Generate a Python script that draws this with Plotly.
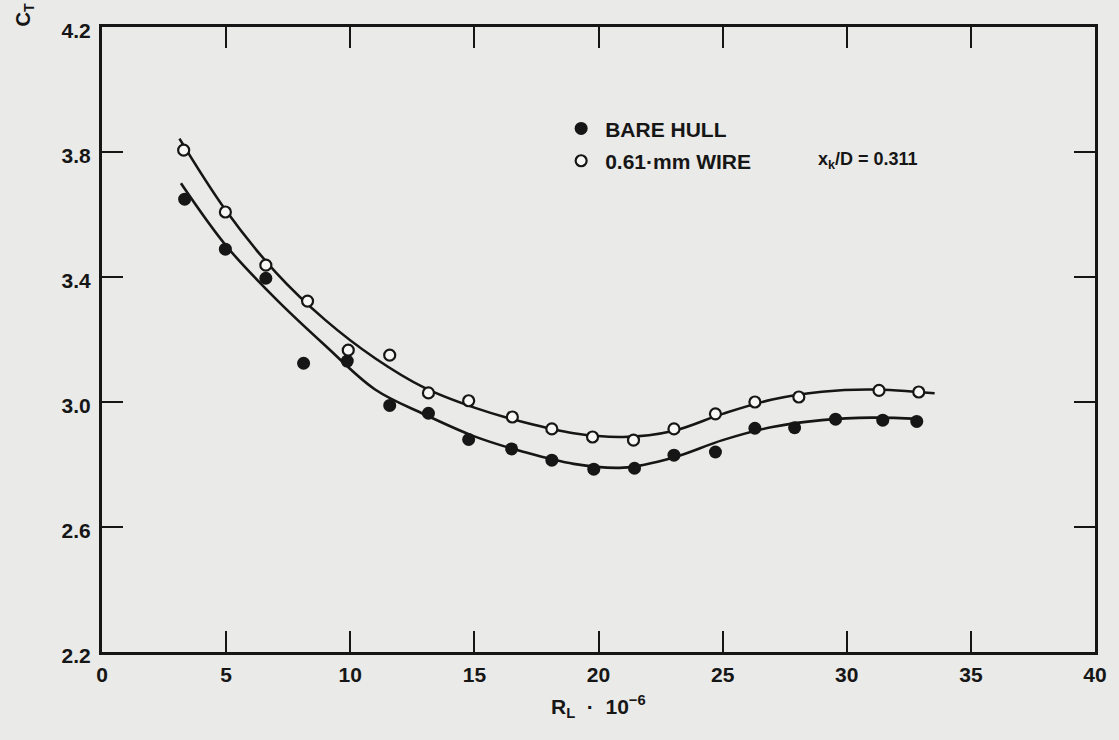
import plotly.graph_objects as go

# ---- measured points (R_L * 1e-6, C_T * 1e3) ----
re_bare = [3.33, 4.97, 6.60, 8.12, 9.88, 11.59, 13.15, 14.77, 16.50, 18.12,
           19.81, 21.45, 23.04, 24.71, 26.30, 27.90, 29.55, 31.45, 32.82]
ct_bare = [3.649, 3.489, 3.396, 3.124, 3.131, 2.989, 2.964, 2.880, 2.850, 2.814,
           2.785, 2.788, 2.830, 2.840, 2.916, 2.918, 2.945, 2.942, 2.938]

re_wire = [3.29, 4.97, 6.60, 8.28, 9.92, 11.59, 13.15, 14.77, 16.53, 18.12,
           19.76, 21.41, 23.04, 24.71, 26.30, 28.07, 31.30, 32.90]
ct_wire = [3.806, 3.608, 3.438, 3.323, 3.166, 3.150, 3.029, 3.004, 2.952, 2.914,
           2.888, 2.878, 2.914, 2.962, 3.000, 3.016, 3.037, 3.032]

# ---- faired curves ----
fit_bare_x = [3.18, 5.0, 7.0, 9.0, 11.0, 13.0, 15.0, 17.0, 19.0, 21.0,
              23.0, 25.0, 27.0, 29.0, 31.0, 32.9]
fit_bare_y = [3.700, 3.500, 3.330, 3.180, 3.040, 2.960, 2.890, 2.840, 2.802, 2.790,
              2.822, 2.878, 2.920, 2.942, 2.950, 2.946]

fit_wire_x = [3.12, 5.0, 7.0, 9.0, 11.0, 13.0, 15.0, 17.0, 19.0, 21.0,
              23.0, 25.0, 27.0, 29.0, 31.0, 33.54]
fit_wire_y = [3.843, 3.612, 3.415, 3.262, 3.140, 3.045, 2.982, 2.935, 2.900, 2.888,
              2.907, 2.962, 3.008, 3.033, 3.040, 3.028]

x_ticks = [0, 5, 10, 15, 20, 25, 30, 35, 40]
y_ticks = [2.2, 2.6, 3.0, 3.4, 3.8, 4.2]

FONT = "Liberation Sans, Arial, Helvetica, sans-serif"
INK = "#161616"
PAPER = "#eaeae8"

fig = go.Figure()

fig.add_trace(go.Scatter(x=fit_bare_x, y=fit_bare_y, mode="lines",
                         line=dict(color=INK, width=2.6, shape="spline", smoothing=1.0),
                         showlegend=False, hoverinfo="skip"))
fig.add_trace(go.Scatter(x=fit_wire_x, y=fit_wire_y, mode="lines",
                         line=dict(color=INK, width=2.6, shape="spline", smoothing=1.0),
                         showlegend=False, hoverinfo="skip"))

fig.add_trace(go.Scatter(x=re_bare, y=ct_bare, mode="markers", name="BARE HULL",
                         legendgroup="a",
                         marker=dict(symbol="circle", size=13, color=INK,
                                     line=dict(width=0))))
fig.add_trace(go.Scatter(x=re_wire, y=ct_wire, mode="markers", name="0.61\u00b7mm WIRE",
                         legendgroup="b",
                         marker=dict(symbol="circle", size=11, color="#f7f7f5",
                                     line=dict(color=INK, width=2.2))))

tick_font = dict(family=FONT, size=21, color=INK, weight="bold")
axis_common = dict(
    showline=True, linecolor=INK, linewidth=3, mirror="ticks",
    ticks="inside", ticklen=21, tickwidth=2.4, tickcolor=INK,
    showgrid=False, zeroline=False, tickfont=tick_font,
)

fig.update_xaxes(range=[0, 40], tickvals=x_ticks, ticktext=[str(v) for v in x_ticks],
                 ticklabelstandoff=2, **axis_common)
fig.update_yaxes(range=[2.2, 4.2], tickvals=y_ticks, ticktext=[f"{v:.1f}" for v in y_ticks],
                 ticklabelstandoff=4, ticklabelshift=4, **axis_common)

fig.add_annotation(text="R<sub>L</sub>\u00a0\u00a0\u00b7\u00a0\u00a010<sup>\u22126</sup>",
                   xref="paper", yref="paper",
                   x=0.5, y=-0.060, xanchor="center", yanchor="top", showarrow=False,
                   font=dict(family=FONT, size=21, color=INK, weight="bold"))
fig.add_annotation(text="C<sub>T</sub>", xref="paper", yref="paper",
                   x=(24 - 102.5) / 1002.5, y=(651.7 - 15) / 625,
                   xanchor="center", yanchor="middle", showarrow=False,
                   textangle=-90, font=dict(family=FONT, size=20, color=INK, weight="bold"))
fig.add_annotation(text="x<sub>k</sub>/D = 0.311", xref="paper", yref="paper",
                   x=(823 - 102.5) / 1002.5, y=(651.7 - 160) / 625,
                   xanchor="left", yanchor="middle", showarrow=False,
                   font=dict(family=FONT, size=18, color=INK, weight="bold"))

fig.update_layout(
    width=1119, height=740,
    margin=dict(l=102, r=14, t=27, b=88),
    paper_bgcolor=PAPER, plot_bgcolor=PAPER,
    font=dict(family=FONT, size=21, color=INK),
    legend=dict(x=(562 - 102.5) / 1002.5, y=(651.7 - 108) / 625,
                xanchor="left", yanchor="top",
                bgcolor="rgba(0,0,0,0)", borderwidth=0,
                itemwidth=38,
                traceorder="grouped", tracegroupgap=2,
                font=dict(family=FONT, size=21, color=INK, weight="bold")),
)

fig.write_html("out.html")
